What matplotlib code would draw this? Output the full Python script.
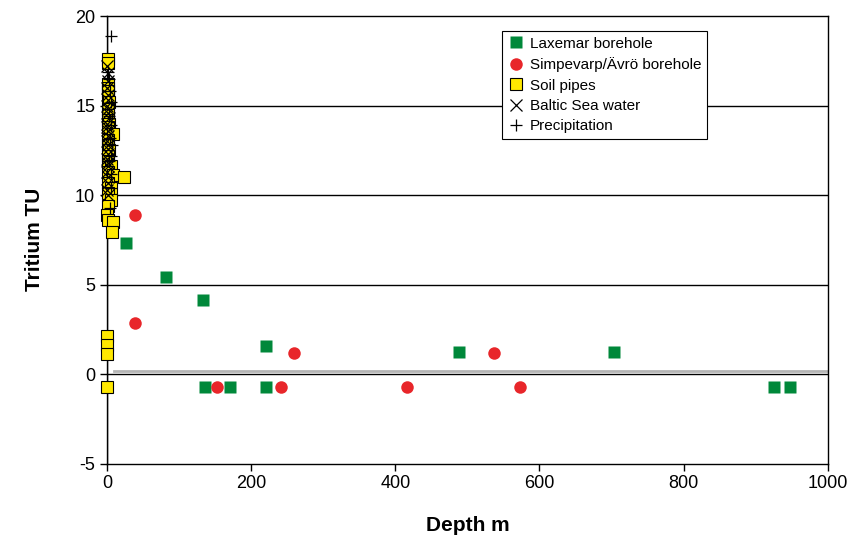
import matplotlib
matplotlib.use("Agg")
import matplotlib.pyplot as plt

plt.rcParams['font.family'] = ['Liberation Sans', 'DejaVu Sans']
plt.rcParams['axes.unicode_minus'] = False

# Laxemar borehole
lax_depth = [26, 82, 133, 220, 489, 703, 136, 171, 220, 926, 948]
lax_tu = [7.3, 5.45, 4.15, 1.55, 1.25, 1.25, -0.75, -0.75, -0.75, -0.75, -0.75]

# Simpevarp/Ävrö borehole
sim_depth = [39, 39, 259, 537, 153, 242, 416, 573]
sim_tu = [8.9, 2.85, 1.15, 1.15, -0.75, -0.75, -0.75, -0.75]

# Soil pipes
soil_depth = [1, 1, 2, 1, 2, 1, 3, 1, 2, 1, 3, 1, 8, 2, 1, 3, 1, 2, 6, 1,
              8, 24, 2, 5, 1, 6, 2, 0, 2, 8, 7, 0, 0, 0, 0]
soil_tu = [17.6, 17.4, 16.2, 16.0, 15.8, 15.5, 15.2, 14.8, 14.5, 14.2,
           14.0, 13.8, 13.4, 13.1, 12.8, 12.5, 12.2, 11.9, 11.6, 11.3,
           11.1, 11.0, 10.7, 10.4, 10.1, 9.7, 9.4, 8.9, 8.6, 8.5, 7.95,
           2.1, 1.6, 1.1, -0.75]

# Baltic Sea water
sea_depth = [0, 1, 2, 0, 1, 2, 0, 1, 3, 0, 1, 2, 0, 1, 2, 0, 1, 0, 2, 1, 0, 2,
             1, 0, 2, 1]
sea_tu = [17.2, 16.8, 16.4, 16.0, 15.6, 15.3, 15.0, 14.6, 14.3, 14.0,
          13.6, 13.3, 13.0, 12.6, 12.3, 12.0, 11.6, 11.3, 11.0, 10.7,
          10.3, 10.0, 14.8, 13.8, 12.8, 11.8]

# Precipitation
pre_depth = [5, 3, 4, 6, 3, 5, 4, 7, 3, 6, 5, 4, 2, 5]
pre_tu = [18.9, 16.5, 15.8, 15.2, 14.4, 13.9, 13.2, 12.8, 11.9, 11.2, 10.4,
          9.3, 16.9, 12.2]

detect_limit = 0.15

fig = plt.figure(figsize=(8.49, 5.39), dpi=100)
ax = fig.add_axes([0.126, 0.140, 0.849, 0.830])

for yv in [0, 5, 10, 15]:
    ax.axhline(yv, color='black', lw=1.0, zorder=1)
ax.plot([10, 1000], [detect_limit, detect_limit], color='#b4b4b4', lw=2.0, zorder=1)
ax.axvline(0, color='black', lw=1.0, zorder=1)

ax.plot(lax_depth, lax_tu, 's', color='#00883a', ms=8, mec='none',
        label='Laxemar borehole', zorder=3, clip_on=False)
ax.plot(sim_depth, sim_tu, 'o', color='#e8262a', ms=9, mec='none',
        label='Simpevarp/Ävrö borehole', zorder=3, clip_on=False)
ax.plot(soil_depth, soil_tu, 's', color='#ffe800', ms=8.5, mec='black', mew=0.8,
        label='Soil pipes', zorder=3, clip_on=False)
ax.plot(sea_depth, sea_tu, 'x', color='black', ms=8, mew=0.9,
        label='Baltic Sea water', zorder=4, clip_on=False)
ax.plot(pre_depth, pre_tu, '+', color='black', ms=9, mew=0.9,
        label='Precipitation', zorder=4, clip_on=False)

ax.set_xlim(0, 1000)
ax.set_ylim(-5, 20)
ax.set_xticks(range(0, 1001, 200))
ax.set_yticks(range(-5, 21, 5))
ax.tick_params(direction='out', length=5, labelsize=13, width=1)
for s in ax.spines.values():
    s.set_linewidth(1.0)

ax.set_xlabel('Depth m', fontsize=15, fontweight='bold', labelpad=17)
ax.set_ylabel('Tritium TU', fontsize=15, fontweight='bold', labelpad=22)

leg = ax.legend(loc='upper left', bbox_to_anchor=(0.548, 0.966), fontsize=11,
                frameon=True, fancybox=False, edgecolor='black', framealpha=1,
                borderpad=0.35, handletextpad=0.3, handlelength=1.2, labelspacing=0.42,
                borderaxespad=0)
leg.get_frame().set_linewidth(0.8)

fig.savefig('out.png', dpi=100)
